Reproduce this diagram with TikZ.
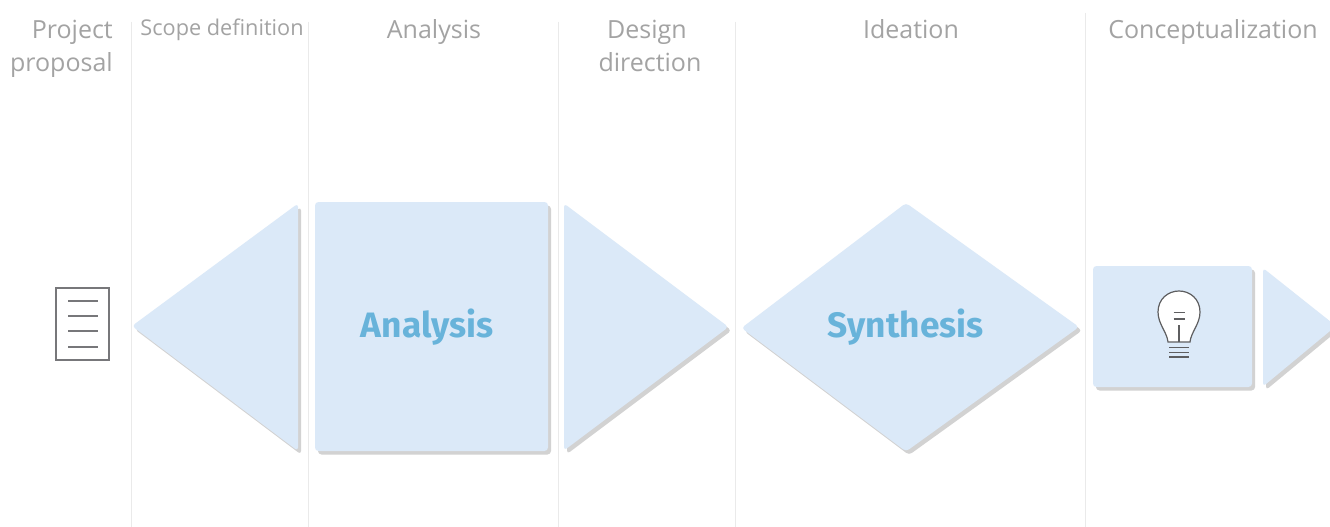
\documentclass[tikz,border=0pt]{standalone}
\usepackage{fontspec}
\setmainfont{Open Sans}
\newfontfamily\boldlabel{Fira Sans}[UprightFont=* Bold]
\definecolor{panel}{HTML}{DBE9F8}
\definecolor{shade}{HTML}{D2D2D2}
\definecolor{rulecol}{HTML}{EAEAEA}
\definecolor{headcol}{HTML}{A3A3A3}
\definecolor{labelcol}{HTML}{68B3DA}
\definecolor{iconcol}{HTML}{77777A}
\definecolor{bulbcol}{HTML}{5E5E60}
\tikzset{
 x=1pt,y=-1pt,
 divider/.style={rulecol,line width=0.9pt},
 panelshape/.style={fill=panel,rounded corners=3.5pt},
 shadeshape/.style={fill=shade,rounded corners=3.5pt,shift={(3pt,-3.5pt)}},
 head/.style={text=headcol,font=\fontsize{25}{33}\selectfont,align=center,inner sep=0pt,anchor=base},
 headsmall/.style={text=headcol,font=\fontsize{21.7}{28}\selectfont,align=center,inner sep=0pt,anchor=base},
 biglabel/.style={text=labelcol,font=\boldlabel\fontsize{35.3}{38}\selectfont,inner sep=0pt,anchor=base},
 docline/.style={iconcol,line width=1.3pt},
 bulbline/.style={bulbcol,line width=1.2pt},
}
\begin{document}
\begin{tikzpicture}
\useasboundingbox (0,0) rectangle (1330,527);
\clip (0,0) rectangle (1330,527);
\fill[white] (0,0) rectangle (1330,527);
% dividers
\foreach \xx/\yy in {131/22,308/22,558/22,735/22,1085/13}
  \draw[divider] (\xx,\yy) -- (\xx,527);
% headers
\node[head,anchor=base east] (h1a) at (113,38.5) {Project};
\node[head,anchor=base east] (h1b) at (113,71.5) {proposal};
\node[headsmall] (h2) at (222,36) {Scope definition};
\node[head] (h3) at (434,38.5) {Analysis};
\node[head] (h4a) at (647,38.5) {Design};
\node[head] (h4b) at (650,71.5) {direction};
\node[head] (h5) at (911,38.5) {Ideation};
\node[head] (h6) at (1213,38.5) {Conceptualization};
% shadows
\fill[shadeshape] (132,326) -- (298,203.5) -- (298,451) -- cycle;
\fill[shadeshape] (315,202) rectangle (548,451);
\fill[shadeshape] (564,203.5) -- (728.5,327) -- (564,450.5) -- cycle;
\fill[shadeshape] (741.5,328) -- (906,203) -- (1079,327) -- (906,451.5) -- cycle;
\fill[shadeshape] (1093,266) rectangle (1252,387);
\fill[shadeshape] (1263,268) -- (1336,326) -- (1263,386.5) -- cycle;
% panels
\fill[panelshape] (132,326) -- (298,203.5) -- (298,451) -- cycle;
\fill[panelshape] (315,202) rectangle (548,451);
\fill[panelshape] (564,203.5) -- (728.5,327) -- (564,450.5) -- cycle;
\fill[panelshape] (741.5,328) -- (906,203) -- (1079,327) -- (906,451.5) -- cycle;
\fill[panelshape] (1093,266) rectangle (1252,387);
\fill[panelshape] (1263,268) -- (1336,326) -- (1263,386.5) -- cycle;
% labels
\node[biglabel] (analysis) at (427,337) {Analysis};
\node[biglabel] (synthesis) at (905.5,337) {Synthesis};
% document icon
\draw[iconcol,line width=1.5pt,fill=white] (56,288) rectangle (109,360);
\foreach \yy in {301,316,331,347}
  \draw[docline] (68,\yy) -- (98,\yy);
% bulb icon
\draw[bulbline,fill=white] (1168,342) -- (1190,342)
  .. controls (1191,332) and (1200,324) .. (1200,312)
  .. controls (1200,299) and (1190,291) .. (1179,291)
  .. controls (1168,291) and (1158,299) .. (1158,312)
  .. controls (1158,324) and (1167,332) .. (1168,342) -- cycle;
\draw[bulbline] (1179,325) -- (1179,342);
\draw[bulbline] (1173.5,312.5) -- (1184.5,312.5);
\draw[bulbline] (1173.5,319) -- (1184.5,319);
\foreach \yy in {347.5,352.5,357}
  \draw[bulbline] (1169,\yy) -- (1189,\yy);
\end{tikzpicture}
\end{document}
